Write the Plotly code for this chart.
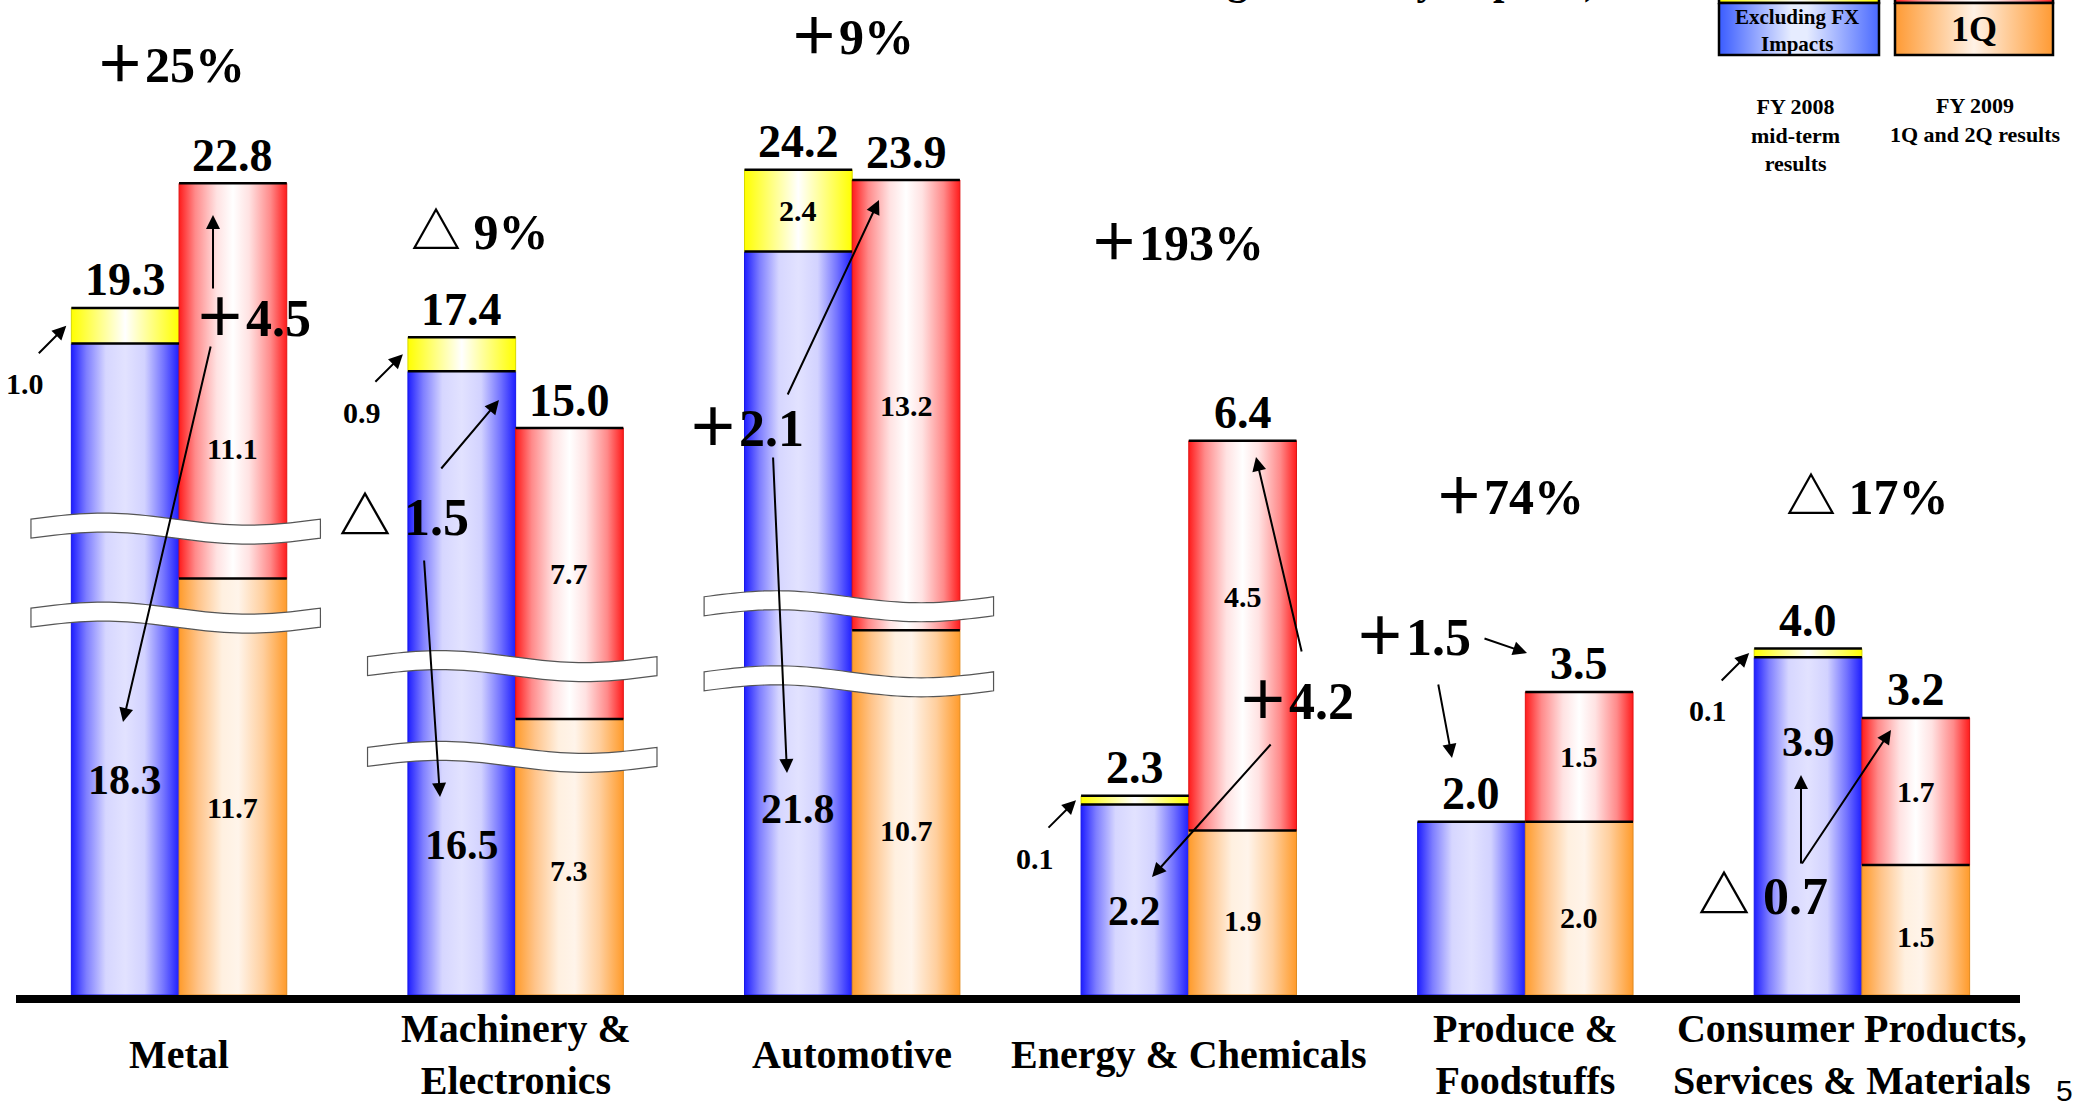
import math
import plotly.graph_objects as go

# ---------------- data (100 million yen) ----------------
CATEGORIES = [
    "Metal",
    "Machinery &<br>Electronics",
    "Automotive",
    "Energy & Chemicals",
    "Produce &<br>Foodstuffs",
    "Consumer Products,<br>Services & Materials",
]
FY2008_EXCL_FX = [18.3, 16.5, 21.8, 2.2, 2.0, 3.9]   # FY2008 mid-term, excluding FX
FY2008_FX = [1.0, 0.9, 2.4, 0.1, 0.0, 0.1]           # FX impacts
FY2009_1Q = [11.7, 7.3, 10.7, 1.9, 2.0, 1.5]
FY2009_2Q = [11.1, 7.7, 13.2, 4.5, 1.5, 1.7]
PCT_CHANGE = [25, -9, 9, 193, 74, -17]

# ---------------- canvas / scales ----------------
W, H = 2079, 1109
PLOT_H = 995                      # bars rest on the bottom edge of the plot area
X_RANGE = [-0.532, 5.645]
BAR_W = 0.32

# the three large segments are drawn on compressed (broken) scales
AXIS_FOR = ["y2", "y3", "y4", "y", "y", "y"]
PX_PER_UNIT = {"y": 86.6, "y2": 35.6, "y3": 37.8, "y4": 34.1}
BREAKS = {0: (10.6, 13.1), 1: (6.3, 8.7), 2: (9.2, 11.4)}   # break marks, axis units

SERIF = "Liberation Serif, 'Noto Sans CJK JP', serif"

BLUE = [[0, "#1e1eff"], [0.14, "#7e7eff"], [0.32, "#d6d6ff"], [0.5, "#e2e2ff"],
        [0.68, "#d2d2ff"], [0.86, "#7272ff"], [1, "#1e1eff"]]
RED = [[0, "#ff1c1c"], [0.15, "#ff8a8a"], [0.35, "#ffe2e2"], [0.5, "#ffffff"],
       [0.65, "#ffe2e2"], [0.85, "#ff8a8a"], [1, "#ff1c1c"]]
ORANGE = [[0, "#ff9b2b"], [0.18, "#ffc48a"], [0.4, "#fff0e0"], [0.55, "#fff4ea"],
          [0.78, "#ffcf9e"], [1, "#ff9b2b"]]
YELLOW = [[0, "#ffff00"], [0.25, "#ffff80"], [0.5, "#ffffff"], [0.75, "#ffff80"], [1, "#ffff00"]]
LEG_BLUE = [[0, "#3a5cff"], [0.45, "#e6ecff"], [0.55, "#e6ecff"], [1, "#4a6aff"]]
LEG_ORANGE = [[0, "#ff9a33"], [0.5, "#fff2e6"], [1, "#ff9a33"]]

# label placement within segments (fraction of segment height)
BLUE_LABEL_AT = [0.33, 0.24, 0.25, 0.44, None, 0.75]
RED_LABEL_AT = [0.33, 0.5, 0.5, 0.6, 0.5, 0.5]
ORANGE_LABEL_AT = 0.45
CATEGORY_SHIFT = [0, 0, 0, 0, 0, -10]   # px nudge of the category names


def px(xp, yp):
    """pixel position -> paper coordinates"""
    return xp / W, 1 - yp / PLOT_H


def segment(xl, xr, base, top, yaxis, scale, edge):
    return go.Scatter(
        x=[xl, xr, xr, xl, xl], y=[base, base, top, top, base],
        mode="lines", fill="toself",
        fillgradient=dict(type="horizontal", colorscale=scale),
        line=dict(color=edge, width=1),
        xaxis="x", yaxis=yaxis, hoverinfo="skip", showlegend=False,
    )


def text(t, x, y, size, xref="paper", yref="paper", **kw):
    d = dict(text=t, x=x, y=y, xref=xref, yref=yref, showarrow=False,
             font=dict(family=SERIF, size=size, color="black"),
             xanchor="center", yanchor="middle")
    d.update(kw)
    return d


def arrow(tail, head):
    hx, hy = px(*head)
    return dict(text="", x=hx, y=hy, xref="paper", yref="paper",
                ax=tail[0] - head[0], ay=tail[1] - head[1],
                axref="pixel", ayref="pixel", showarrow=True,
                arrowhead=2, arrowsize=1.4, arrowwidth=2, arrowcolor="black", standoff=0)


def signed(v, body):
    return "<b>" + ("＋" if v >= 0 else "△ ") + body + "</b>"


fig = go.Figure()
annotations = []
shapes = []
top_edges = {}

for i in range(len(CATEGORIES)):
    ya = AXIS_FOR[i]
    lx0, lx1 = i - BAR_W, i
    rx0, rx1 = i, i + BAR_W
    blue, fx = FY2008_EXCL_FX[i], FY2008_FX[i]
    q1, q2 = FY2009_1Q[i], FY2009_2Q[i]
    left_total, right_total = blue + fx, q1 + q2

    fig.add_trace(segment(lx0, lx1, 0, blue, ya, BLUE, "#1818e8"))
    edges = top_edges.setdefault(ya, ([], []))
    edges[0].extend([lx0, lx1, None]); edges[1].extend([blue, blue, None])
    if fx > 0:
        fig.add_trace(segment(lx0, lx1, blue, left_total, ya, YELLOW, "#d8d800"))
        edges[0].extend([lx0, lx1, None]); edges[1].extend([left_total, left_total, None])
    fig.add_trace(segment(rx0, rx1, 0, q1, ya, ORANGE, "#e08a20"))
    fig.add_trace(segment(rx0, rx1, q1, right_total, ya, RED, "#e01414"))
    edges[0].extend([rx0, rx1, None, rx0, rx1, None])
    edges[1].extend([q1, q1, None, right_total, right_total, None])

    # totals above the stacks
    annotations.append(text(f"<b>{left_total:.1f}</b>", i - BAR_W / 2, left_total, 46,
                            xref="x", yref=ya, yshift=28))
    annotations.append(text(f"<b>{right_total:.1f}</b>", i + BAR_W / 2, right_total, 46,
                            xref="x", yref=ya, yshift=28))

    # segment values
    if BLUE_LABEL_AT[i] is not None:
        annotations.append(text(f"<b>{blue:.1f}</b>", i - BAR_W / 2, blue * BLUE_LABEL_AT[i], 42,
                                xref="x", yref=ya))
    annotations.append(text(f"<b>{q1:.1f}</b>", i + BAR_W / 2, q1 * ORANGE_LABEL_AT, 30,
                            xref="x", yref=ya))
    annotations.append(text(f"<b>{q2:.1f}</b>", i + BAR_W / 2, q1 + q2 * RED_LABEL_AT[i], 30,
                            xref="x", yref=ya))

    # FX impact: inside when there is room, otherwise a pointer from the left
    if fx > 0:
        if fx * PX_PER_UNIT[ya] > 50:
            annotations.append(text(f"<b>{fx:.1f}</b>", i - BAR_W / 2, blue + fx / 2, 30,
                                    xref="x", yref=ya))
        else:
            hx = i - BAR_W - 0.015
            hy = blue + fx / 2
            annotations.append(dict(text="", x=hx, y=hy, xref="x", yref=ya, ax=-29, ay=29,
                                    axref="pixel", ayref="pixel", showarrow=True,
                                    arrowhead=2, arrowsize=1.4, arrowwidth=2,
                                    arrowcolor="black", standoff=0))
            annotations.append(text(f"<b>{fx:.1f}</b>", hx, hy, 30, xref="x", yref=ya,
                                    xshift=-41, yshift=-58))

    # category name under the axis
    annotations.append(text(f"<b>{CATEGORIES[i]}</b>", i, px(0, 1054)[1], 40, xref="x",
                            xshift=CATEGORY_SHIFT[i]))

for ya, (xs, ys) in top_edges.items():
    fig.add_trace(go.Scatter(x=xs, y=ys, mode="lines", line=dict(color="black", width=2.5),
                             xaxis="x", yaxis=ya, hoverinfo="skip", showlegend=False))

# wavy break marks across the compressed columns
for i, centers in BREAKS.items():
    ya = AXIS_FOR[i]
    ppu = PX_PER_UNIT[ya]
    half, amp = 9.5 / ppu, 6.0 / ppu
    xl, xr = i - 0.44, i + 0.42
    n = 48
    for c in centers:
        upper = [(xl + (xr - xl) * k / n, c + half + amp * math.sin(2 * math.pi * k / n))
                 for k in range(n + 1)]
        lower = [(x, y - 2 * half) for x, y in reversed(upper)]
        pts = upper + lower
        path = "M " + " L ".join(f"{x:.5f},{y:.5f}" for x, y in pts) + " Z"
        shapes.append(dict(type="path", path=path, xref="x", yref=ya, fillcolor="white",
                           line=dict(color="#555555", width=1.2), layer="above"))

# change rates and differences versus FY2008 (excluding FX)
PCT_POS = [(170, 65), (480, 232), (851, 37), (1176, 243), (1509, 497), (1867, 497)]
DIFF_POS = [(252, 318), (404, 517), (745, 428), (1295, 701), (1412, 637), (1763, 896)]
for i in range(len(CATEGORIES)):
    x, y = px(*PCT_POS[i])
    annotations.append(text(signed(PCT_CHANGE[i], f"{abs(PCT_CHANGE[i])}%"), x, y, 50))
    diff = round(FY2009_1Q[i] + FY2009_2Q[i] - FY2008_EXCL_FX[i], 1)
    x, y = px(*DIFF_POS[i])
    annotations.append(text(signed(diff, f"{abs(diff):.1f}"), x, y, 52))

ARROWS = [
    ((213, 290), (213, 215)), ((211, 345), (123, 722)),
    ((440, 470), (499, 400)), ((424, 559), (440, 797)),
    ((787, 396), (879, 200)), ((773, 456), (787, 773)),
    ((1302, 653), (1256, 457)), ((1272, 743), (1152, 877)),
    ((1483, 638), (1527, 653)), ((1438, 683), (1452, 758)),
    ((1801, 865), (1801, 775)), ((1801, 865), (1891, 730)),
]
for tail, head in ARROWS:
    annotations.append(arrow(tail, head))

# legend swatches (pixel-coordinate overlay)
LEGEND = [
    (1719, 1879, -30, 3, YELLOW), (1719, 1879, 3, 55, LEG_BLUE),
    (1895, 2053, -30, 3, RED), (1895, 2053, 3, 55, LEG_ORANGE),
]
for x0, x1, y0, y1, sc in LEGEND:
    fig.add_trace(go.Scatter(x=[x0, x1, x1, x0, x0], y=[y0, y0, y1, y1, y0], mode="lines",
                             fill="toself", fillgradient=dict(type="horizontal", colorscale=sc),
                             line=dict(color="black", width=2.5), xaxis="x2", yaxis="y5",
                             hoverinfo="skip", showlegend=False))
x, y = px(1797, 30)
annotations.append(text("<b>Excluding FX<br>Impacts</b>", x, y, 21))
x, y = px(1974, 29)
annotations.append(text("<b>1Q</b>", x, y, 36))
x, y = px(1795, 135)
annotations.append(text("<b>FY 2008<br>mid-term<br>results</b>", x, y, 22))
x, y = px(1975, 120)
annotations.append(text("<b>FY 2009<br>1Q and 2Q results</b>", x, y, 22))

# heading running off the top of the page
x, y = px(1600, 5)
annotations.append(text("<b>foreign currency impacts)</b>", x, y, 41,
                        xanchor="right", yanchor="bottom"))

# page number
x, y = px(2064, 1090)
annotations.append(dict(text="5", x=x, y=y, xref="paper", yref="paper", showarrow=False,
                        font=dict(family="Liberation Sans, Arial, sans-serif", size=30, color="black"),
                        xanchor="center", yanchor="middle"))

# base line
bx0, by = px(16, 999)
bx1, _ = px(2020, 999)
shapes.append(dict(type="line", xref="paper", yref="paper", x0=bx0, x1=bx1, y0=by, y1=by,
                   line=dict(color="black", width=8), layer="above"))

hidden = dict(visible=False, fixedrange=True, showgrid=False, zeroline=False)
layout = dict(
    width=W, height=H,
    margin=dict(l=0, r=0, t=0, b=H - PLOT_H, pad=0),
    paper_bgcolor="white", plot_bgcolor="rgba(0,0,0,0)",
    showlegend=False,
    xaxis=dict(range=X_RANGE, domain=[0, 1], **hidden),
    yaxis=dict(range=[0, PLOT_H / PX_PER_UNIT["y"]], domain=[0, 1], **hidden),
    xaxis2=dict(range=[0, W], domain=[0, 1], anchor="y5", **hidden),
    yaxis5=dict(range=[PLOT_H, 0], domain=[0, 1], anchor="x2", **hidden),
    annotations=annotations,
    shapes=shapes,
)
for k, key in ((2, "y2"), (3, "y3"), (4, "y4")):
    layout[f"yaxis{k}"] = dict(range=[0, PLOT_H / PX_PER_UNIT[key]], overlaying="y",
                               anchor="x", **hidden)
fig.update_layout(**layout)

fig.write_html("out.html", config={"displayModeBar": False})
